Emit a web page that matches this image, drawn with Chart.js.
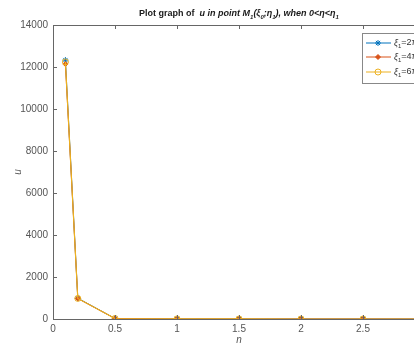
<!DOCTYPE html>
<html>
<head>
<meta charset="utf-8">
<script src="https://cdn.jsdelivr.net/npm/chart.js@4.4.1/dist/chart.umd.min.js"></script>
<style>
  html, body { margin: 0; padding: 0; background: #fff; overflow: hidden; }
  #wrap { width: 460px; height: 343px; }
</style>
</head>
<body>
<div id="wrap"><canvas id="plot" width="460" height="343"></canvas></div>
<script>
// eta values along the x axis
const etaValues = [0.1, 0.2, 0.5, 1, 1.5, 2, 2.5, 3];
// u at point M1 for each xi1
const uXi2pi = [12330, 990, 25, 5, 2, 1, 1, 0];
const uXi4pi = [12140, 975, 24, 5, 2, 1, 1, 0];
const uXi6pi = [12240, 980, 25, 5, 2, 1, 1, 0];
const seriesNames = ['2π', '4π', '6π'];
const yTicks = { min: 0, max: 14000, step: 2000 };
const xTicks = { min: 0, max: 3, step: 0.5 };

const toPoints = arr => etaValues.map((x, i) => ({ x: x, y: arr[i] }));
const axisColor = '#666';
const labelColor = '#555';
const fontFam = '"Liberation Sans", Arial, sans-serif';

// box, inward ticks, title and legend the MATLAB way
const matlabFrame = {
    id: 'matlabFrame',
    afterDraw(chart) {
        const ctx = chart.ctx;
        const a = chart.chartArea;
        const xs = chart.scales.x, ys = chart.scales.y;
        ctx.save();
        ctx.strokeStyle = axisColor;
        ctx.lineWidth = 1;
        ctx.beginPath();
        ctx.moveTo(a.left, a.top + 0.5);
        ctx.lineTo(a.right, a.top + 0.5);
        ctx.moveTo(a.right - 0.5, a.top);
        ctx.lineTo(a.right - 0.5, a.bottom);
        xs.ticks.forEach(t => {
            const px = Math.round(xs.getPixelForValue(t.value)) + 0.5;
            ctx.moveTo(px, a.bottom); ctx.lineTo(px, a.bottom - 4);
            ctx.moveTo(px, a.top); ctx.lineTo(px, a.top + 4);
        });
        ys.ticks.forEach(t => {
            const py = Math.round(ys.getPixelForValue(t.value)) + 0.5;
            ctx.moveTo(a.left, py); ctx.lineTo(a.left + 4, py);
            ctx.moveTo(a.right, py); ctx.lineTo(a.right - 4, py);
        });
        ctx.stroke();

        // title with subscripts
        const big = 'bold 9px ' + fontFam;
        const bigIt = 'italic bold 9px ' + fontFam;
        const sub = 'italic bold 6px ' + fontFam;
        const parts = [
            ['Plot graph of  ', big, 0], ['u in point M', bigIt, 0], ['1', sub, 3],
            ['(ξ', bigIt, 0], ['0', sub, 3], [';η', bigIt, 0], ['1', sub, 3],
            ['), when 0<η<η', bigIt, 0], ['1', sub, 3]
        ];
        let w = 0;
        parts.forEach(p => { ctx.font = p[1]; w += ctx.measureText(p[0]).width; });
        let tx = (a.left + a.right) / 2 - w / 2;
        ctx.fillStyle = '#1a1a1a';
        ctx.textBaseline = 'alphabetic';
        ctx.textAlign = 'left';
        parts.forEach(p => {
            ctx.font = p[1];
            ctx.fillText(p[0], tx, 16 + p[2]);
            tx += ctx.measureText(p[0]).width;
        });

        // legend box inside the axes, top right
        const lx = 362, ly = 33, lw = 62, lh = 50;
        ctx.fillStyle = '#fff';
        ctx.fillRect(lx, ly, lw, lh);
        ctx.strokeStyle = '#888';
        ctx.strokeRect(lx + 0.5, ly + 0.5, lw, lh);
        const rows = [43, 57, 72];
        chart.data.datasets.forEach((ds, i) => {
            const y = rows[i];
            ctx.strokeStyle = ds.borderColor;
            ctx.lineWidth = 1;
            ctx.beginPath();
            ctx.moveTo(366, y); ctx.lineTo(391, y);
            ctx.stroke();
            ctx.fillStyle = ds.pointBackgroundColor;
            ctx.strokeStyle = ds.borderColor;
            Chart.helpers.drawPoint(ctx, {
                pointStyle: ds.pointStyle, radius: ds.pointRadius,
                borderWidth: ds.pointBorderWidth || 1, rotation: 0
            }, 378, y);
            ctx.fillStyle = '#333';
            ctx.font = 'italic 9px ' + fontFam;
            ctx.textBaseline = 'middle';
            let x = 394;
            ctx.fillText('ξ', x, y); x += ctx.measureText('ξ').width;
            ctx.font = '6px ' + fontFam;
            ctx.fillText('1', x, y + 3); x += ctx.measureText('1').width;
            ctx.font = '9px ' + fontFam;
            ctx.fillText('=' + seriesNames[i], x, y);
        });
        ctx.restore();
    }
};

new Chart(document.getElementById('plot'), {
    type: 'line',
    data: {
        datasets: [{
            label: 'ξ1=' + seriesNames[0],
            data: toPoints(uXi2pi),
            borderColor: '#0072BD',
            backgroundColor: '#0072BD',
            pointBackgroundColor: '#0072BD',
            pointStyle: 'star',
            pointRadius: 3,
            pointBorderWidth: 1,
            borderWidth: 1,
            order: 3
        }, {
            label: 'ξ1=' + seriesNames[1],
            data: toPoints(uXi4pi),
            borderColor: '#D95319',
            backgroundColor: '#D95319',
            pointBackgroundColor: '#D95319',
            pointStyle: 'rectRot',
            pointRadius: 2.5,
            pointBorderWidth: 1,
            borderWidth: 1,
            order: 2
        }, {
            label: 'ξ1=' + seriesNames[2],
            data: toPoints(uXi6pi),
            borderColor: '#EDB120',
            backgroundColor: 'rgba(0,0,0,0)',
            pointBackgroundColor: 'rgba(0,0,0,0)',
            pointStyle: 'circle',
            pointRadius: 3,
            pointBorderWidth: 1,
            borderWidth: 1.2,
            order: 1
        }]
    },
    options: {
        responsive: false,
        animation: false,
        devicePixelRatio: 1,
        layout: { padding: { top: 25, right: 35, left: 0, bottom: 0 } },
        plugins: {
            legend: { display: false },
            title: { display: false },
            tooltip: { enabled: false }
        },
        scales: {
            x: {
                type: 'linear',
                min: xTicks.min, max: xTicks.max,
                ticks: { stepSize: xTicks.step, padding: 4, color: labelColor, font: { family: fontFam, size: 10 }, callback: v => String(v) },
                grid: { display: false, drawTicks: false },
                border: { display: true, color: axisColor, width: 1 },
                title: { display: true, text: 'η', color: labelColor, padding: 0, font: { family: fontFam, size: 10, style: 'italic', lineHeight: 0.6 } },
                afterFit: s => { s.height = 24; }
            },
            y: {
                min: yTicks.min, max: yTicks.max,
                ticks: { stepSize: yTicks.step, padding: 5, color: labelColor, font: { family: fontFam, size: 10 }, callback: v => String(v) },
                grid: { display: false, drawTicks: false },
                border: { display: true, color: axisColor, width: 1 },
                title: { display: true, text: 'u', color: labelColor, padding: { top: 12, bottom: 0 }, font: { family: fontFam, size: 10, style: 'italic' } },
                afterFit: s => { s.width = 53; }
            }
        }
    },
    plugins: [matlabFrame]
});
</script>
</body>
</html>
